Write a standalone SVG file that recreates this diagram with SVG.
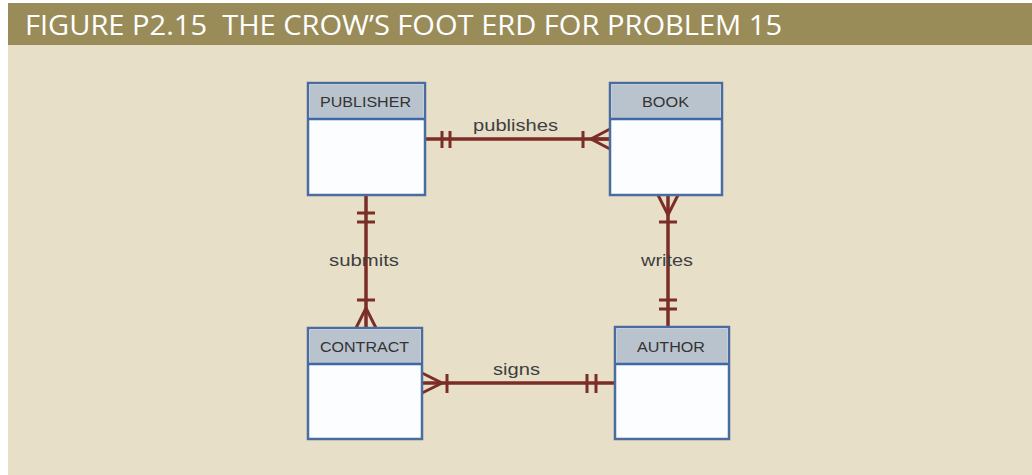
<svg xmlns="http://www.w3.org/2000/svg" width="1032" height="475" viewBox="0 0 1032 475">
<style>
.hdr{fill:#b9c3cd;stroke:none}
.box{fill:#fbfdff;stroke:#4a6c9e;stroke-width:2.5}
.div{stroke:#3f68a6;stroke-width:2.5}
.name{font-family:"Liberation Sans",Arial,sans-serif;font-size:15.5px;fill:#333333;text-anchor:middle}
.lbl{font-family:"Liberation Sans",Arial,sans-serif;font-size:17px;fill:#3f3f3f;text-anchor:middle}
.rel{stroke:#7b2d27;stroke-width:3.5;fill:none}
.tick{stroke:#7b2d27;stroke-width:3;fill:none}
</style>
<rect x="0" y="0" width="1032" height="475" fill="#ffffff"/>
<rect x="8" y="3" width="1024" height="472" fill="#e8dfc8"/>
<rect x="8" y="3" width="1024" height="42" fill="#9a8c58"/>
<text x="25" y="35" font-family="'Open Sans','Liberation Sans',sans-serif" font-size="28" fill="#ffffff" textLength="757" lengthAdjust="spacingAndGlyphs" xml:space="preserve">FIGURE P2.15  THE CROW’S FOOT ERD FOR PROBLEM 15</text>

<g id="connectors">
  <g id="publishes">
    <line class="rel" x1="425" y1="139" x2="610" y2="139"/>
    <line class="tick" x1="442" y1="131" x2="442" y2="148"/>
    <line class="tick" x1="450" y1="131" x2="450" y2="148"/>
    <line class="tick" x1="583" y1="131" x2="583" y2="148"/>
    <path class="tick" d="M610 129 L591 139 L610 149 M591 139 L610 139"/>
    <text class="lbl" x="515.5" y="131" textLength="85" lengthAdjust="spacingAndGlyphs">publishes</text>
  </g>
  <g id="submits">
    <line class="rel" x1="366" y1="195" x2="366" y2="328"/>
    <line class="tick" x1="357" y1="213" x2="375" y2="213"/>
    <line class="tick" x1="357" y1="222" x2="375" y2="222"/>
    <line class="tick" x1="357" y1="300" x2="375" y2="300"/>
    <path class="tick" d="M356 328 L366 308 L376 328"/>
    <text class="lbl" x="364" y="266" textLength="70" lengthAdjust="spacingAndGlyphs">submits</text>
  </g>
  <g id="writes">
    <line class="rel" x1="668" y1="195" x2="668" y2="327"/>
    <path class="tick" d="M658 195 L668 215 L678 195"/>
    <line class="tick" x1="659" y1="222" x2="677" y2="222"/>
    <line class="tick" x1="659" y1="300" x2="677" y2="300"/>
    <line class="tick" x1="659" y1="309" x2="677" y2="309"/>
    <text class="lbl" x="667" y="266" textLength="52" lengthAdjust="spacingAndGlyphs">writes</text>
  </g>
  <g id="signs">
    <line class="rel" x1="422" y1="383" x2="615" y2="383"/>
    <path class="tick" d="M422 373 L442 383 L422 393"/>
    <line class="tick" x1="447" y1="374" x2="447" y2="393"/>
    <line class="tick" x1="587" y1="374" x2="587" y2="393"/>
    <line class="tick" x1="596" y1="374" x2="596" y2="393"/>
    <text class="lbl" x="516.5" y="375" textLength="47" lengthAdjust="spacingAndGlyphs">signs</text>
  </g>
</g>

<g id="publisher">
  <rect class="box" x="308" y="83" width="117" height="112"/>
  <rect class="hdr" x="309.5" y="84.5" width="114" height="34"/>
  <line class="div" x1="308" y1="119" x2="425" y2="119"/>
  <text class="name" x="365.5" y="107" textLength="91" lengthAdjust="spacingAndGlyphs">PUBLISHER</text>
</g>
<g id="book">
  <rect class="box" x="610" y="83" width="112" height="112"/>
  <rect class="hdr" x="611.5" y="84.5" width="109" height="34"/>
  <line class="div" x1="610" y1="119" x2="722" y2="119"/>
  <text class="name" x="665.5" y="107" textLength="47" lengthAdjust="spacingAndGlyphs">BOOK</text>
</g>
<g id="contract">
  <rect class="box" x="308" y="328" width="114" height="111"/>
  <rect class="hdr" x="309.5" y="329.5" width="111" height="34"/>
  <line class="div" x1="308" y1="364" x2="422" y2="364"/>
  <text class="name" x="364.5" y="352" textLength="89" lengthAdjust="spacingAndGlyphs">CONTRACT</text>
</g>
<g id="author">
  <rect class="box" x="615" y="327" width="114" height="112"/>
  <rect class="hdr" x="616.5" y="328.5" width="111" height="35"/>
  <line class="div" x1="615" y1="364" x2="729" y2="364"/>
  <text class="name" x="671" y="352" textLength="68" lengthAdjust="spacingAndGlyphs">AUTHOR</text>
</g>
</svg>
